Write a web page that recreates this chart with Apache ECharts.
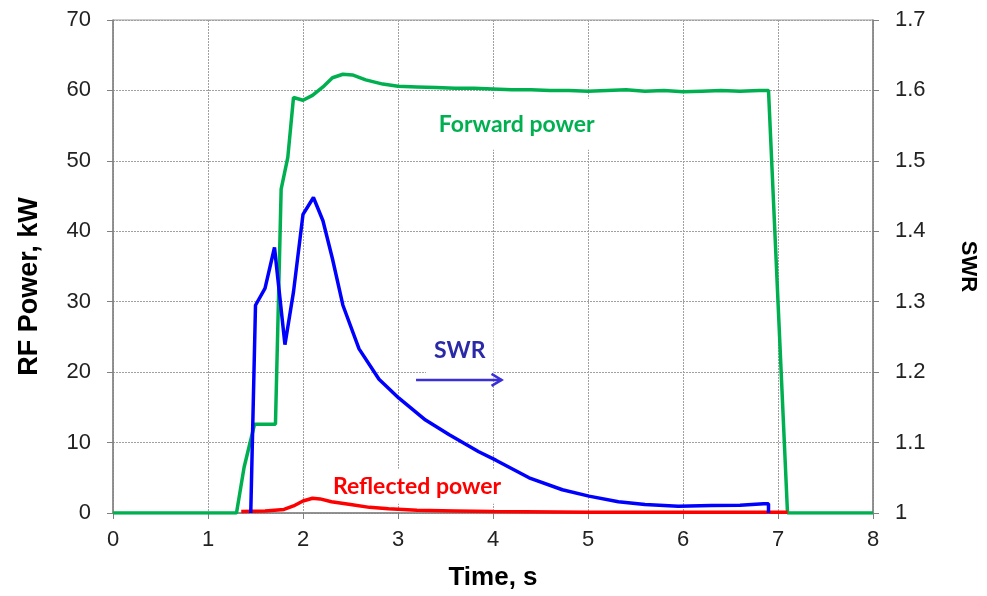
<!DOCTYPE html>
<html>
<head>
<meta charset="utf-8">
<script src="https://cdn.jsdelivr.net/npm/echarts@6/dist/echarts.min.js"></script>
<style>
html,body{margin:0;padding:0;background:#fff;}
#chart{width:987px;height:596px;}
</style>
</head>
<body>
<div id="chart"></div>
<script>
// ---- data ----
var xTicks = [0, 1, 2, 3, 4, 5, 6, 7, 8];
var leftTicks = [0, 10, 20, 30, 40, 50, 60, 70];
var rightTicks = [1, 1.1, 1.2, 1.3, 1.4, 1.5, 1.6, 1.7];

var fwdTime = [0, 1.30, 1.38, 1.49, 1.71, 1.77, 1.84, 1.90, 2.00, 2.10, 2.21, 2.31, 2.42, 2.52, 2.66, 2.84, 3.0, 3.2, 3.4, 3.6, 3.8, 4.0, 4.2, 4.4, 4.6, 4.8, 5.0, 5.2, 5.4, 5.6, 5.8, 6.0, 6.2, 6.4, 6.6, 6.8, 6.90, 7.10, 8.0];
var fwdPower = [0, 0, 6.5, 12.6, 12.6, 46, 50.5, 59, 58.6, 59.3, 60.5, 61.8, 62.3, 62.2, 61.5, 60.9, 60.6, 60.5, 60.4, 60.3, 60.3, 60.2, 60.1, 60.1, 60.0, 60.0, 59.9, 60.0, 60.1, 59.9, 60.0, 59.8, 59.9, 60.0, 59.9, 60.0, 60.0, 0, 0];

var swrTime = [1.45, 1.50, 1.60, 1.70, 1.81, 1.90, 2.00, 2.11, 2.21, 2.31, 2.42, 2.59, 2.80, 3.01, 3.29, 3.54, 3.85, 4.03, 4.38, 4.73, 5.01, 5.32, 5.60, 5.95, 6.3, 6.6, 6.85, 6.90, 6.90];
var swrValue = [1.0, 1.295, 1.319, 1.377, 1.239, 1.314, 1.424, 1.448, 1.415, 1.361, 1.295, 1.233, 1.19, 1.163, 1.132, 1.111, 1.087, 1.075, 1.05, 1.033, 1.024, 1.016, 1.012, 1.0095, 1.0105, 1.011, 1.013, 1.013, 1.0];

var refTime = [1.35, 1.6, 1.8, 1.9, 2.0, 2.1, 2.18, 2.3, 2.5, 2.7, 2.9, 3.2, 3.6, 4.0, 5.0, 6.0, 7.1];
var refPower = [0.2, 0.3, 0.5, 1.0, 1.7, 2.1, 2.0, 1.6, 1.2, 0.8, 0.6, 0.4, 0.3, 0.2, 0.1, 0.1, 0.1];

// annotations in data coordinates (left axis)
var fwdLabel = {text: 'Forward power', t: 4.25, v: 55.2};
var swrLabel = {text: 'SWR', t: 3.65, v: 23.1};
var swrArrow = {t0: 3.19, t1: 4.09, v: 18.9};
var refLabel = {text: 'Reflected power', t: 3.2, v: 3.8};

function pairs(xs, ys){ return xs.map(function(x,i){ return [x, ys[i]]; }); }

var GREEN = '#00b050', BLUE = '#0000ff', RED = '#ff0000';
var FONT = 'Liberation Sans, Arial, sans-serif';
var tickFont = {fontFamily: FONT, fontSize: 22, color: '#222'};
var split = {show: true, lineStyle: {color: '#a0a0a0', type: [2, 1], width: 1}};

var chart = echarts.init(document.getElementById('chart'), null, {renderer: 'canvas'});
chart.setOption({
  animation: false,
  backgroundColor: '#fff',
  grid: {left: 113, right: 112, top: 20, bottom: 82, show: true, borderColor: '#999', borderWidth: 1},
  xAxis: {
    type: 'value', min: xTicks[0], max: xTicks[xTicks.length-1], interval: 1,
    name: 'Time, s', nameLocation: 'middle', nameGap: 52,
    nameTextStyle: {fontFamily: FONT, fontSize: 26, fontWeight: 'bold', color: '#000'},
    axisLine: {show: true, lineStyle: {color: '#808080', width: 1.5}},
    axisTick: {show: true, length: 6, lineStyle: {color: '#808080'}},
    axisLabel: Object.assign({margin: 16}, tickFont),
    splitLine: split
  },
  yAxis: [{
    type: 'value', min: leftTicks[0], max: leftTicks[leftTicks.length-1], interval: 10,
    name: 'RF Power, kW', nameLocation: 'middle', nameGap: 70, nameRotate: 90,
    nameTextStyle: {fontFamily: FONT, fontSize: 27, fontWeight: 'bold', color: '#000', padding: [0, 40, 0, 0]},
    axisLine: {show: true, lineStyle: {color: '#808080', width: 1.5}},
    axisTick: {show: true, length: 6, lineStyle: {color: '#808080'}},
    axisLabel: Object.assign({margin: 22}, tickFont),
    splitLine: split
  }, {
    type: 'value', min: rightTicks[0], max: rightTicks[rightTicks.length-1], interval: 0.1,
    position: 'right',
    name: 'SWR', nameLocation: 'middle', nameGap: 84, nameRotate: -90,
    nameTextStyle: {fontFamily: FONT, fontSize: 22, fontWeight: 'bold', color: '#000'},
    axisLine: {show: true, lineStyle: {color: '#808080', width: 1.5}},
    axisTick: {show: true, length: 6, lineStyle: {color: '#808080'}},
    axisLabel: Object.assign({margin: 22, formatter: function(v){ return String(parseFloat(v.toFixed(1))); }}, tickFont),
    splitLine: {show: false}
  }],
  series: [
    {name: 'Forward power', type: 'line', data: pairs(fwdTime, fwdPower), showSymbol: false, symbol: 'none',
     lineStyle: {color: GREEN, width: 3.5}, z: 3},
    {name: 'Reflected power', type: 'line', data: pairs(refTime, refPower), showSymbol: false, symbol: 'none',
     lineStyle: {color: RED, width: 3.5}, z: 4},
    {name: 'SWR', type: 'line', yAxisIndex: 1, data: pairs(swrTime, swrValue), showSymbol: false, symbol: 'none',
     lineStyle: {color: BLUE, width: 3.5}, z: 5}
  ]
});

function px(t, v){ return chart.convertToPixel({xAxisIndex: 0, yAxisIndex: 0}, [t, v]); }
var annFont = 'bold 23px Lato, "Open Sans", sans-serif';
function label(l, color, padX, padY){
  var p = px(l.t, l.v);
  return {type: 'text', x: p[0], y: p[1], z: 1,
    style: {text: l.text, font: annFont, fill: color, align: 'center', verticalAlign: 'middle',
            backgroundColor: '#fff', padding: [padY, padX, padY, padX]}};
}
var a0 = px(swrArrow.t0, swrArrow.v), a1 = px(swrArrow.t1, swrArrow.v);
chart.setOption({graphic: [
  label(fwdLabel, GREEN, 8, 14),
  label(swrLabel, '#2a2aa8', 8, 18),
  label(refLabel, RED, 8, 6),
  {type: 'line', z: 2, shape: {x1: a0[0], y1: a0[1], x2: a1[0], y2: a1[1]}, style: {stroke: '#3b2fd8', lineWidth: 2.5}},
  {type: 'polyline', z: 2, shape: {points: [[a1[0]-10, a1[1]-6], [a1[0], a1[1]], [a1[0]-10, a1[1]+6]]},
   style: {stroke: '#3b2fd8', lineWidth: 2.5, fill: null}}
]});
</script>
</body>
</html>
